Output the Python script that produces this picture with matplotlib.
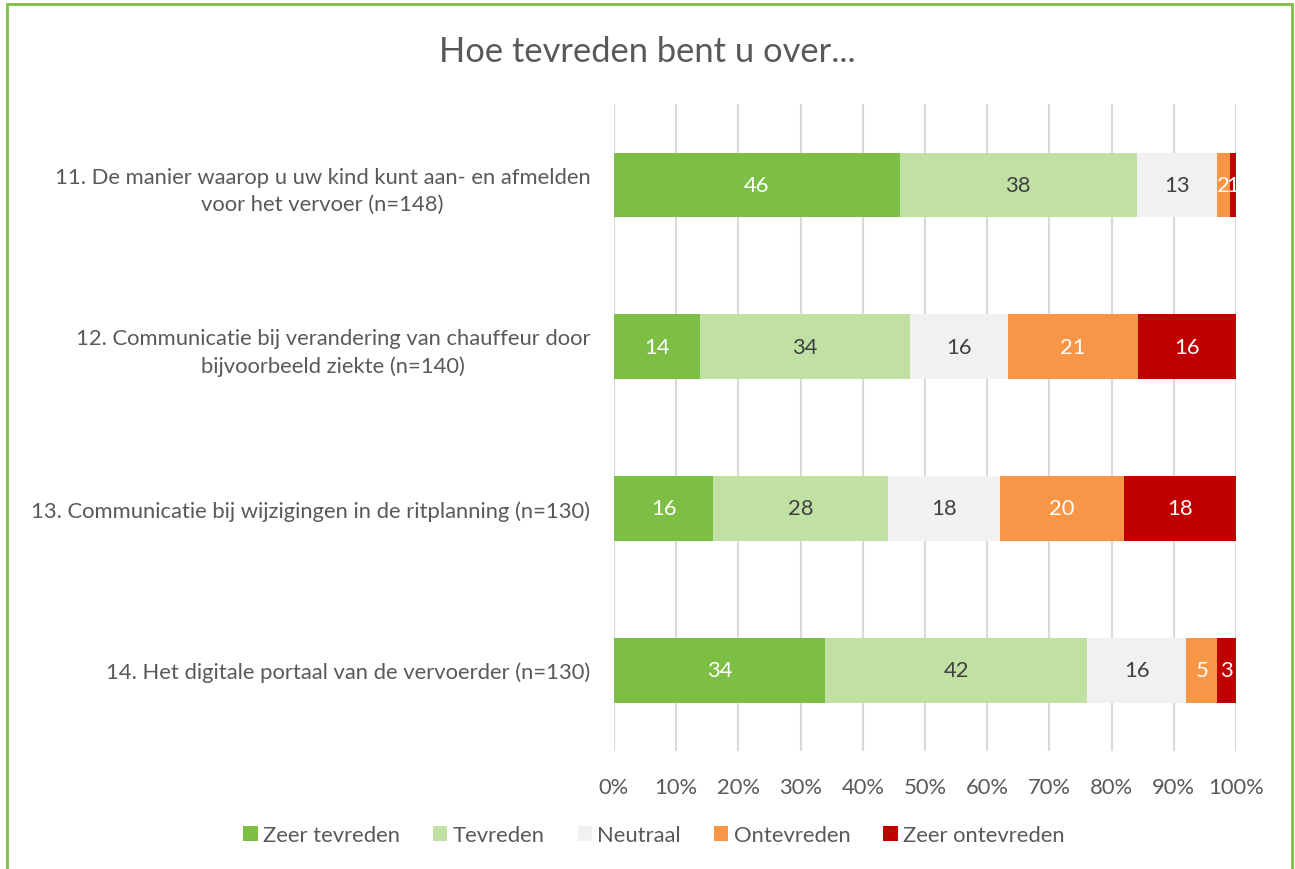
import numpy as np
import matplotlib.pyplot as plt
from matplotlib.patches import Rectangle

plt.rcParams['font.family'] = ['Lato', 'DejaVu Sans']

# data (percentages per question)
questions = [
    '11. De manier waarop u uw kind kunt aan- en afmelden\nvoor het vervoer (n=148)',
    '12. Communicatie bij verandering van chauffeur door\nbijvoorbeeld ziekte (n=140)',
    '13. Communicatie bij wijzigingen in de ritplanning (n=130)',
    '14. Het digitale portaal van de vervoerder (n=130)',
]
categories = ['Zeer tevreden', 'Tevreden', 'Neutraal', 'Ontevreden', 'Zeer ontevreden']
zeer_tevreden = [46, 14, 16, 34]
tevreden = [38, 34, 28, 42]
neutraal = [13, 16, 18, 16]
ontevreden = [2, 21, 20, 5]
zeer_ontevreden = [1, 16, 18, 3]

colors = ['#7cbf44', '#c0e0a4', '#f1f1f1', '#f79646', '#c00000']
label_colors = ['white', '#404040', '#404040', 'white', 'white']
text_col = '#595959'
fs = 15.8

series = np.array([zeer_tevreden, tevreden, neutraal, ontevreden, zeer_ontevreden], dtype=float)
totals = series.sum(axis=0)
shares = series / totals * 100  # 100% stacked, like excel

fig = plt.figure(figsize=(12.95, 8.70), dpi=100)
ax = fig.add_axes([0.4741, 0.1356, 0.4804, 0.7437])

y = np.arange(len(questions))
left = np.zeros(len(questions))
for i, cat in enumerate(categories):
    bars = ax.barh(y, shares[i], left=left, height=0.4, color=colors[i], label=cat, zorder=3)
    for j, b in enumerate(bars):
        cx = left[j] + shares[i][j] / 2
        ax.text(cx, y[j], '%d' % series[i][j], ha='center', va='center',
                fontsize=fs, color=label_colors[i], zorder=4)
    left += shares[i]

ax.set_xlim(0, 100)
ax.set_ylim(len(questions) - 0.5, -0.5)
ax.set_xticks(np.arange(0, 101, 10))
ax.set_xticklabels(['%d%%' % v for v in range(0, 101, 10)])
ax.set_yticks(y)
ax.set_yticklabels(questions, multialignment='center', linespacing=1.45)
ax.grid(axis='x', color='#d9d9d9', linewidth=1.5, zorder=0)
for s in ax.spines.values():
    s.set_visible(False)
ax.tick_params(axis='both', length=0, labelsize=fs, labelcolor=text_col)
ax.tick_params(axis='x', pad=19)
ax.tick_params(axis='y', pad=17)

fig.text(0.5, 0.94, 'Hoe tevreden bent u over...', ha='center', va='center',
         fontsize=24.8, color=text_col)

fig.legend(loc='center', bbox_to_anchor=(0.505, 0.039), ncol=5, frameon=False,
           fontsize=fs, labelcolor=text_col, handlelength=0.65, handleheight=0.65,
           handletextpad=0.25, columnspacing=1.5)

# green chart border
fig.patches.append(Rectangle((0.0055, -0.01), 0.992, 1.0043, transform=fig.transFigure,
                             fill=False, edgecolor='#7cbf44', linewidth=2))

fig.savefig('out.png', dpi=100)
